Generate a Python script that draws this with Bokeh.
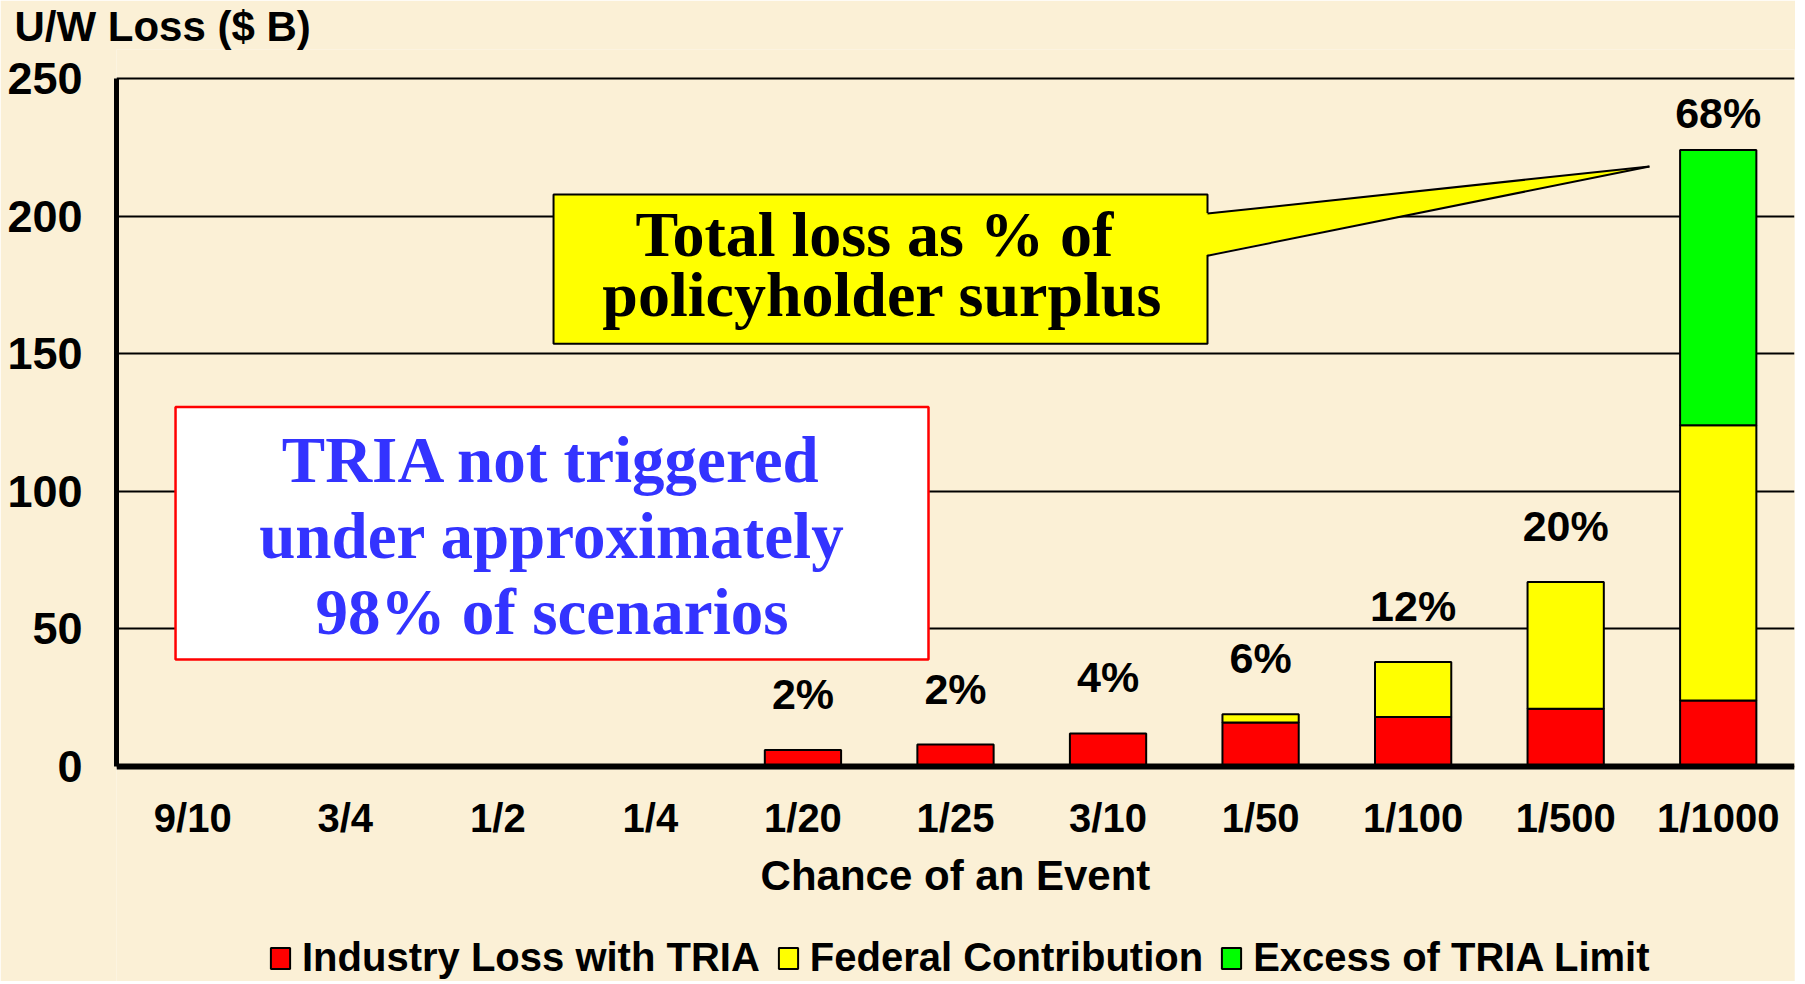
from bokeh.plotting import figure
from bokeh.models import FactorRange, Range1d, FixedTicker, Legend, LegendItem, ColumnDataSource
from bokeh.core.properties import value
from bokeh.embed import file_html
from bokeh.resources import INLINE

# ---------------- data ----------------
categories = ["9/10", "3/4", "1/2", "1/4", "1/20", "1/25", "3/10", "1/50", "1/100", "1/500", "1/1000"]
industry_loss = [0, 0, 0, 0, 6, 8, 12, 16, 18, 21, 24]
federal_contribution = [0, 0, 0, 0, 0, 0, 0, 3, 20, 46, 100]
excess_limit = [0, 0, 0, 0, 0, 0, 0, 0, 0, 0, 100]
pct_of_surplus = ["", "", "", "", "2%", "2%", "4%", "6%", "12%", "20%", "68%"]
y_ticks = [0, 50, 100, 150, 200, 250]
series_names = ["Industry Loss with TRIA", "Federal Contribution", "Excess of TRIA Limit"]

# ---------------- style ----------------
BG = "#FBF0D6"
SANS = "Liberation Sans"
SERIF = "Liberation Serif"
colors = ["#FF0000", "#FFFF00", "#00FF00"]

# frame extends below zero so the legend can sit inside it, under the axis
p = figure(
    x_range=FactorRange(*categories, range_padding=0),
    y_range=Range1d(-78.1, 260.5),
    frame_width=1678, frame_height=932,
    min_border_left=116, min_border_right=1, min_border_top=48, min_border_bottom=0,
    output_backend="svg", toolbar_location=None,
    background_fill_color=BG, border_fill_color=BG, outline_line_color=None,
)

# stacked bars
series = [industry_loss, federal_contribution, excess_limit]
renderers = []
base = [0] * len(categories)
for vals, col in zip(series, colors):
    xs, bots, tops = [], [], []
    for c, b, v in zip(categories, base, vals):
        if v > 0:
            xs.append(c); bots.append(b); tops.append(b + v)
    src = ColumnDataSource(dict(x=xs, bottom=bots, top=tops))
    r = p.vbar(x="x", bottom="bottom", top="top", width=0.5, source=src,
               fill_color=col, line_color="black", line_width=2)
    renderers.append(r)
    base = [b + v for b, v in zip(base, vals)]

# percent labels above bars
totals = base
label_offsets = [-56, -56, -56, -56, -56, -56, -56, -56, -56, -56, -37]
lx, ly, lt, lo = [], [], [], []
for c, t, s, o in zip(categories, totals, pct_of_surplus, label_offsets):
    if s:
        lx.append(c); ly.append(t); lt.append(s); lo.append(o)
p.text(x="x", y="y", text="t", y_offset="o",
       source=ColumnDataSource(dict(x=lx, y=ly, t=lt, o=lo)),
       text_font=value(SANS), text_font_style="bold", text_font_size="43px",
       text_color="black", text_align="center", text_baseline="middle")

# white callout box (TRIA not triggered)
p.quad(left=[0.387], right=[5.323], bottom=[38.9], top=[130.6],
       fill_color="white", line_color="#FF0000", line_width=2.5)
p.text(x=[2.855, 2.855, 2.855], y=[111.5, 83.9, 56.2],
       text=["TRIA not triggered", "under approximately", "98% of scenarios"],
       text_font=value(SERIF), text_font_style="bold", text_font_size="65px",
       text_color="#3333FF", text_align="center", text_baseline="middle")

# yellow callout with pointer
p.quad(left=[2.865], right=[7.152], bottom=[153.6], top=[207.8],
       fill_color="#FFFF00", line_color="black", line_width=2)
p.patch(x=[7.12, 10.049, 7.12], y=[200.9, 218.0, 185.6], fill_color="#FFFF00", line_color=None)
p.line(x=[7.152, 10.049], y=[200.9, 218.0], line_color="black", line_width=2)
p.line(x=[7.152, 10.049], y=[185.6, 218.0], line_color="black", line_width=2)
p.text(x=[5.021, 5.021], y=[193.4, 171.6],
       text=["Total loss as  % of", "policyholder surplus"],
       text_font=value(SERIF), text_font_style="bold", text_font_size="64px",
       text_color="black", text_align="center", text_baseline="middle")

# axes
p.yaxis.ticker = FixedTicker(ticks=y_ticks)
p.yaxis.bounds = (0, 250)
p.yaxis.axis_line_width = 5
p.yaxis.axis_line_color = "black"
p.yaxis.major_tick_line_color = None
p.yaxis.minor_tick_line_color = None
p.yaxis.major_label_standoff = 28
p.yaxis.major_label_text_font = SANS
p.yaxis.major_label_text_font_style = "bold"
p.yaxis.major_label_text_font_size = "45px"
p.yaxis.major_label_text_color = "black"

p.xaxis.fixed_location = 0
p.xaxis.axis_line_width = 6
p.xaxis.axis_line_color = "black"
p.xaxis.major_tick_line_color = None
p.xaxis.minor_tick_line_color = None
p.xaxis.major_label_standoff = 23
p.xaxis.major_label_text_font = SANS
p.xaxis.major_label_text_font_style = "bold"
p.xaxis.major_label_text_font_size = "40px"
p.xaxis.major_label_text_color = "black"
p.xaxis.axis_label = "Chance of an Event"
p.xaxis.axis_label_standoff = 9
p.xaxis.axis_label_text_font = SANS
p.xaxis.axis_label_text_font_style = "bold"
p.xaxis.axis_label_text_font_size = "42px"
p.xaxis.axis_label_text_color = "black"

p.xgrid.grid_line_color = None
p.ygrid.ticker = FixedTicker(ticks=y_ticks)
p.ygrid.grid_line_color = "black"
p.ygrid.grid_line_width = 2

# title (y-axis caption at top-left)
p.title.text = "U/W Loss ($ B)"
p.title.align = "left"
p.title.offset = -102
p.title.standoff = 0
p.title.text_font = SANS
p.title.text_font_style = "bold"
p.title.text_font_size = "42px"
p.title.text_color = "black"

# legend at the bottom, inside the (extended) frame
legend = Legend(
    items=[LegendItem(label=n, renderers=[r]) for n, r in zip(series_names, renderers)],
    orientation="horizontal", location=(152, 1),
    glyph_width=24, glyph_height=26, label_standoff=10, spacing=16,
    padding=0, margin=0,
    label_text_font=SANS, label_text_font_style="bold", label_text_font_size="40px",
    label_text_color="black", background_fill_alpha=0, border_line_alpha=0,
)
p.add_layout(legend)

open("out.html", "w").write(file_html(p, INLINE))
